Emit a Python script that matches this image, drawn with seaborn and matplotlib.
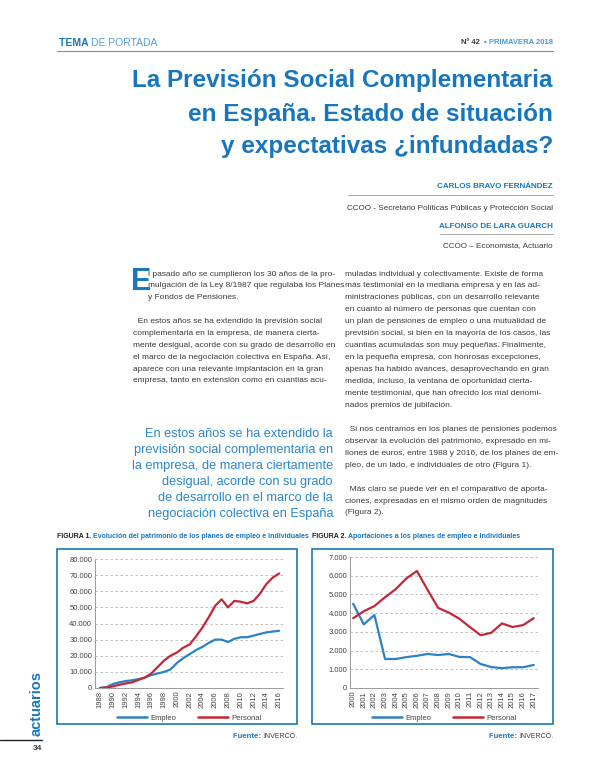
import matplotlib
matplotlib.use("Agg")
import matplotlib.pyplot as plt
from matplotlib.lines import Line2D
from matplotlib.patches import Rectangle
import pandas as pd
import seaborn as sns

# --- datos de los graficos ---
anios_fig1 = list(range(1988, 2017))
empleo_fig1 = [0, 500, 2500, 3500, 4300, 4800, 5500, 6500, 8000, 9000, 10000, 11500,
               15500, 18500, 21000, 23500, 25500, 28000, 30000, 30000, 28500, 30500,
               31500, 31500, 32500, 33500, 34500, 35000, 35500]
personal_fig1 = [0, 300, 1000, 2000, 2800, 3500, 5000, 6500, 9000, 13000, 17000, 20000,
                 22000, 25000, 27000, 32000, 37500, 44000, 51000, 55000, 50000, 54000,
                 53500, 52500, 54000, 58500, 64500, 68500, 71000]

anios_fig2 = list(range(2000, 2018))
empleo_fig2 = [4500, 3400, 3900, 1550, 1550, 1650, 1720, 1820, 1760, 1820, 1660, 1650,
               1280, 1120, 1060, 1110, 1110, 1230]
personal_fig2 = [3730, 4100, 4380, 4850, 5280, 5850, 6250, 5250, 4280, 4030, 3700, 3250,
                 2820, 2950, 3450, 3260, 3360, 3730]

series = ["Empleo", "Personal"]
yticks_fig1 = [0, 10000, 20000, 30000, 40000, 50000, 60000, 70000, 80000]
yticks_fig2 = [0, 1000, 2000, 3000, 4000, 5000, 6000, 7000]

AZUL = "#1a76bc"
AZUL_LINEA = "#2b82c6"
ROJO = "#c3283a"
GRIS = "#3a3a3a"

W, H = 595, 779

sns.set_theme(style="white")
plt.rcParams["font.family"] = ["Liberation Sans", "DejaVu Sans"]

fig = plt.figure(figsize=(W / 100, H / 100), dpi=100)
renderer = fig.canvas.get_renderer()


def px(x, y):
    return x / W, 1 - y / H


def texto(x, y, s, **kw):
    kw.setdefault("va", "center")
    kw.setdefault("color", GRIS)
    return fig.text(*px(x, y), s, **kw)


def ancho(t):
    return t.get_window_extent(renderer).width


def trozos(x, y, partes, derecha=False):
    # coloca varios textos seguidos (partes = [(texto, opciones), ...])
    if derecha:
        for s, kw in reversed(partes):
            t = texto(x, y, s, ha="right", **kw)
            x -= ancho(t)
    else:
        for s, kw in partes:
            t = texto(x, y, s, ha="left", **kw)
            x += ancho(t)


def linea(x0, x1, y, color="#8a8a8a", lw=0.8):
    fig.add_artist(Line2D([x0 / W, x1 / W], [1 - y / H, 1 - y / H],
                          color=color, lw=lw, transform=fig.transFigure))


# --- cabecera ---
trozos(59, 43, [("TEMA ", dict(fontsize=7.5, fontweight="bold", color=AZUL)),
                ("DE PORTADA", dict(fontsize=7.5, color="#5a9fd6"))])
trozos(553, 43, [("Nº 42  ", dict(fontsize=5.5, fontweight="bold", color=GRIS)),
                 ("▪ PRIMAVERA 2018", dict(fontsize=5.5, fontweight="bold", color="#4a9ad6"))],
       derecha=True)
linea(57, 553, 51)

# --- titulo ---
for y, s in zip([81, 114, 147], ["La Previsión Social Complementaria",
                                 "en España. Estado de situación",
                                 "y expectativas ¿infundadas?"]):
    texto(553, y, s, fontsize=17.5, fontweight="bold", color=AZUL, ha="right")

# --- autores ---
texto(553, 187, "CARLOS BRAVO FERNÁNDEZ", fontsize=5.8, fontweight="bold", color=AZUL, ha="right")
linea(348, 553, 195, color="#9a9a9a", lw=0.6)
texto(553, 208, "CCOO - Secretario Políticas Públicas y Protección Social", fontsize=5.9, ha="right")
texto(553, 226, "ALFONSO DE LARA GUARCH", fontsize=5.8, fontweight="bold", color=AZUL, ha="right")
linea(440, 553, 234, color="#9a9a9a", lw=0.6)
texto(553, 246, "CCOO – Economista, Actuario", fontsize=5.9, ha="right")

# --- cuerpo, columna izquierda ---
CUERPO = 6.0
texto(131, 282, "E", fontsize=22, fontweight="bold", color=AZUL)
col_izq_a = ["l pasado año se cumplieron los 30 años de la pro-",
             "mulgación de la Ley 8/1987 que regulaba los Planes",
             "y Fondos de Pensiones."]
for i, s in enumerate(col_izq_a):
    texto(148, 274 + i * 11.8, s, fontsize=CUERPO)

col_izq_b = ["  En estos años se ha extendido la previsión social",
             "complementaria en la empresa, de manera cierta-",
             "mente desigual, acorde con su grado de desarrollo en",
             "el marco de la negociación colectiva en España. Así,",
             "aparece con una relevante implantación en la gran",
             "empresa, tanto en extensión como en cuantias acu-"]
for i, s in enumerate(col_izq_b):
    texto(133, 322 + i * 11.8, s, fontsize=CUERPO)

cita = ["En estos años se ha extendido la",
        "previsión social complementaria en",
        "la empresa, de manera ciertamente",
        "desigual, acorde con su grado",
        "de desarrollo en el marco de la",
        "negociación colectiva en España"]
for i, s in enumerate(cita):
    texto(333, 434 + i * 15.9, s, fontsize=9.2, color="#2b86c8", ha="right")

# --- cuerpo, columna derecha ---
col_der = ["muladas individual y colectivamente. Existe de forma",
           "más testimonial en la mediana empresa y en las ad-",
           "ministraciones públicas, con un desarrollo relevante",
           "en cuanto al número de personas que cuentan con",
           "un plan de pensiones de empleo o una mutualidad de",
           "previsión social, si bien en la mayoría de los casos, las",
           "cuantias acumuladas son muy pequeñas. Finalmente,",
           "en la pequeña empresa, con honrosas excepciones,",
           "apenas ha habido avances, desaprovechando en gran",
           "medida, incluso, la ventana de oportunidad cierta-",
           "mente testimonial, que han ofrecido los mal denomi-",
           "nados premios de jubilación.",
           "",
           "  Si nos centramos en los planes de pensiones podemos",
           "observar la evolución del patrimonio, expresado en mi-",
           "llones de euros, entre 1988 y 2016, de los planes de em-",
           "pleo, de un lado, e individuales de otro (Figura 1).",
           "",
           "  Más claro se puede ver en el comparativo de aporta-",
           "ciones, expresadas en el mismo orden de magnitudes",
           "(Figura 2)."]
for i, s in enumerate(col_der):
    texto(345, 274 + i * 11.95, s, fontsize=CUERPO)

# --- margen izquierdo ---
texto(37, 704, "actuarios", fontsize=10.5, fontweight="bold", color=AZUL, rotation=90, ha="center")
linea(0, 42, 740, color="#222222", lw=1.0)
texto(42, 749, "34", fontsize=6, fontweight="bold", ha="right")


# --- graficos ---
def grafico(caja, ejes, anios, empleo, personal, yticks, ylim, xlim, xticks,
            num, titulo, fuente_x):
    x0, y0, x1, y1 = caja
    fig.add_artist(Rectangle(px(x0, y1), (x1 - x0) / W, (y1 - y0) / H, fill=False,
                             edgecolor=AZUL, lw=1.2, transform=fig.transFigure))
    trozos(x0, 537, [(num + " ", dict(fontsize=5.0, fontweight="bold", color="#222222")),
                     (titulo, dict(fontsize=5.0, fontweight="bold", color=AZUL))])
    trozos(fuente_x, 736, [("Fuente: ", dict(fontsize=5.5, fontweight="bold", color=AZUL)),
                           ("INVERCO.", dict(fontsize=5.0, color=GRIS))], derecha=True)

    a0, a1, b0, b1 = ejes
    ax = fig.add_axes([a0 / W, 1 - b1 / H, (a1 - a0) / W, (b1 - b0) / H])
    df = pd.DataFrame({"anio": anios * 2,
                       "valor": empleo + personal,
                       "serie": [series[0]] * len(anios) + [series[1]] * len(anios)})
    sns.lineplot(data=df, x="anio", y="valor", hue="serie", ax=ax,
                 palette={"Empleo": AZUL_LINEA, "Personal": ROJO}, lw=1.6, legend=False)
    ax.set_xlim(*xlim)
    ax.set_ylim(*ylim)
    ax.set_yticks(yticks)
    ax.set_yticklabels([f"{v:,}".replace(",", ".") for v in yticks], fontsize=5.5, color="#444444")
    ax.set_xticks(xticks)
    ax.set_xticklabels([str(v) for v in xticks], rotation=90, fontsize=5.5, color="#444444")
    ax.tick_params(axis="both", length=0, pad=2)
    ax.set_xlabel("")
    ax.set_ylabel("")
    for g in yticks[1:]:
        ax.axhline(g, color="#b5b5b5", lw=0.6, ls=(0, (3, 3)), zorder=0)
    for s in ["top", "right"]:
        ax.spines[s].set_visible(False)
    for s in ["left", "bottom"]:
        ax.spines[s].set_color("#9a9a9a")
        ax.spines[s].set_linewidth(0.7)
    ax.patch.set_alpha(0)
    handles = [Line2D([], [], color=AZUL_LINEA, lw=1.8), Line2D([], [], color=ROJO, lw=1.8)]
    ax.legend(handles, series, loc="center", bbox_to_anchor=px((a0 + a1) / 2, 718),
              bbox_transform=fig.transFigure, ncol=2, frameon=False, fontsize=5.5,
              handlelength=4.0, handletextpad=0.4, columnspacing=2.8,
              labelcolor="#444444", borderpad=0)
    return ax


grafico((57, 549, 297, 724), (95, 283, 559, 688), anios_fig1, empleo_fig1, personal_fig1,
        yticks_fig1, (0, 80000), (1987.2, 2016.6), list(range(1988, 2017, 2)),
        "FIGURA 1.", "Evolución del patrimonio de los planes de empleo e individuales", 297)
grafico((312, 549, 553, 724), (350, 538, 557, 688), anios_fig2, empleo_fig2, personal_fig2,
        yticks_fig2, (0, 7000), (1999.7, 2017.4), anios_fig2,
        "FIGURA 2.", "Aportaciones a los planes de empleo e individuales", 553)

fig.savefig("out.png", dpi=100)
